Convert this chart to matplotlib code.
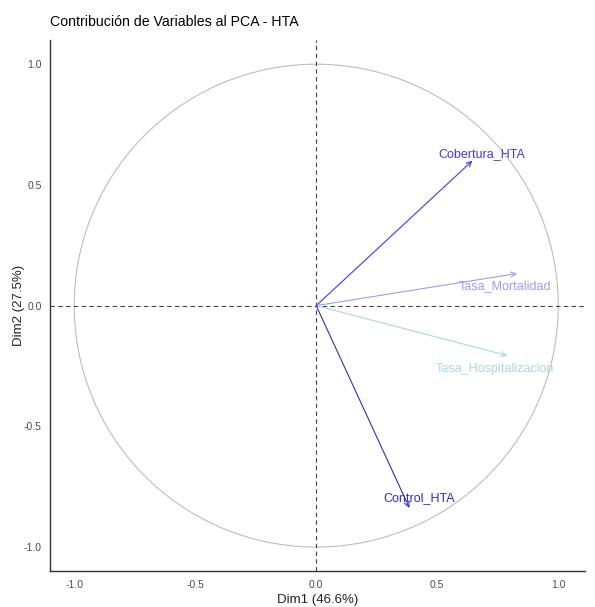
import matplotlib.pyplot as plt
import numpy as np

plt.rcParams['font.family'] = ['Liberation Sans', 'DejaVu Sans']
plt.rcParams['axes.unicode_minus'] = False

variables = ['Cobertura_HTA', 'Tasa_Mortalidad', 'Tasa_Hospitalizacion', 'Control_HTA']
dim1 = [0.645, 0.83, 0.79, 0.385]
dim2 = [0.60, 0.133, -0.207, -0.838]
colores = ['#3c3ce6', '#9c9cf2', '#aad6e8', '#3030b0']
# label offsets in pixels relative to arrow tips
offsets = [(9, 7), (-12, -13), (-13, -13), (10, 10)]

fig = plt.figure(figsize=(5.95, 6.07), dpi=100)
ax = fig.add_axes([0.084, 0.059, 0.899, 0.875])

t = np.linspace(0, 2 * np.pi, 400)
ax.plot(np.cos(t), np.sin(t), color='#bdbdbd', lw=0.8)
ax.axhline(0, color='#444444', ls=(0, (4, 3)), lw=0.8)
ax.axvline(0, color='#444444', ls=(0, (4, 3)), lw=0.8)

for v, x, y, c, (dx, dy) in zip(variables, dim1, dim2, colores, offsets):
    ax.annotate('', xy=(x, y), xytext=(0, 0),
                arrowprops=dict(arrowstyle='->', color=c, lw=0.8,
                                shrinkA=0, shrinkB=0, mutation_scale=9))
    ax.annotate(v, xy=(x, y), xytext=(dx, dy), textcoords='offset pixels',
                ha='center', va='center', color=c, fontsize=9)

ax.set_xlim(-1.1, 1.11)
ax.set_ylim(-1.1, 1.1)
ax.set_xticks([-1.0, -0.5, 0.0, 0.5, 1.0])
ax.set_yticks([-1.0, -0.5, 0.0, 0.5, 1.0])
ax.tick_params(length=0, labelsize=7.5, labelcolor='#4d4d4d', pad=6)
for s in ['top', 'right']:
    ax.spines[s].set_visible(False)
for s in ['left', 'bottom']:
    ax.spines[s].set_color('#333333')
    ax.spines[s].set_linewidth(1.0)

ax.set_xlabel('Dim1 (46.6%)', fontsize=9.5, color='#222222', labelpad=3)
ax.set_ylabel('Dim2 (27.5%)', fontsize=9.5, color='#222222', labelpad=-1)
ax.set_title('Contribución de Variables al PCA - HTA', fontsize=10.2, loc='left',
             x=0.0, pad=10)

fig.savefig('out.png', dpi=100)
